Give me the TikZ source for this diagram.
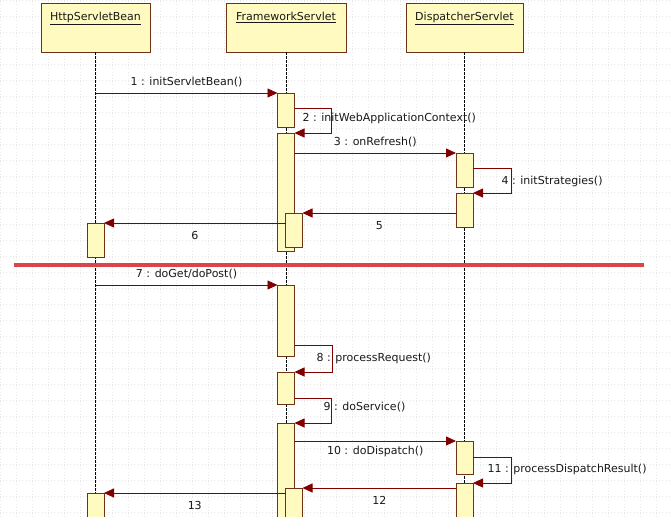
\documentclass[tikz,border=0pt]{standalone}
\usepackage{fontspec}
\setmainfont{DejaVu Sans}
\usetikzlibrary{calc}
\usetikzlibrary{positioning}
\usetikzlibrary{arrows.meta}

\definecolor{actfill}{RGB}{255,250,192}
\definecolor{actline}{RGB}{110,50,20}
\definecolor{msgcol}{RGB}{128,0,0}
\definecolor{sepcol}{RGB}{220,68,74}

\begin{document}
\begin{tikzpicture}
[
x=1pt, y=1pt,
% 文字
every node/.style={font=\fontsize{11}{13}\selectfont, text=black!90},
% 背景の点線
gridline/.style={gray!18, line width=0.6pt, dash pattern=on 0.6pt off 2.6pt},
% オブジェクト
objbox/.style={rectangle, draw=actline, fill=actfill, line width=0.8pt,
minimum height=49, inner sep=0, outer sep=0},
% 生存線
life/.style={black, line width=0.6pt, dash pattern=on 2.5pt off 1.5pt},
% 活性区間
act/.style={rectangle, draw=actline, fill=actfill, line width=0.8pt,
minimum width=17, inner sep=0, outer sep=0, anchor=north},
% メッセージ
msg/.style={draw=msgcol, line width=0.8pt,
-{Triangle[length=10pt, width=9pt, fill=msgcol]}},
% 区切り線
sep/.style={sepcol, line width=4pt}
]
\useasboundingbox (0,0) rectangle (670,-517);
\clip (0,0) rectangle (670,-517);
\fill[white] (0,0) rectangle (670,-517);
\draw[gridline] (0,0) grid[step=16] (670,-517);

% オブジェクトの配置
\node [objbox, minimum width=109] (hsb) at (95.5,-27.5) {};
\node [objbox, minimum width=120, right=76 of hsb] (fs) {};
\node [objbox, minimum width=117, right=60 of fs] (ds) {};
\node [anchor=north, yshift=-6] (hsbname) at (hsb.north) {\underline{HttpServletBean}};
\node [anchor=north, yshift=-6] (fsname) at (fs.north) {\underline{FrameworkServlet}};
\node [anchor=north, yshift=-6] (dsname) at (ds.north) {\underline{DispatcherServlet}};

% 生存線
\draw [life] (hsb.south) -- (hsb.south |- 0,-517);
\draw [life] (fs.south) -- (fs.south |- 0,-517);
\draw [life] (ds.south) -- (ds.south |- 0,-517);

% 区切り線
\draw [sep] (14,-265) -- (644,-265);

% 活性区間（初期化）
\node [act, minimum height=34] (f1) at (fs.south |- 0,-93) {};
\node [act, minimum height=118] (f2) at (fs.south |- 0,-133) {};
\node [act, minimum height=34] (d1) at (ds.south |- 0,-153) {};
\node [act, minimum height=34] (d2) at (ds.south |- 0,-193) {};
\node [act, minimum height=34, xshift=8] (f2b) at (fs.south |- 0,-213) {};
\node [act, minimum height=34] (h1) at (hsb.south |- 0,-223) {};

% 活性区間（リクエスト処理）
\node [act, minimum height=71] (f3) at (fs.south |- 0,-285) {};
\node [act, minimum height=32] (f4) at (fs.south |- 0,-372) {};
\node [act, minimum height=110] (f5) at (fs.south |- 0,-423) {};
\node [act, minimum height=33] (d3) at (ds.south |- 0,-441) {};
\node [act, minimum height=50] (d4) at (ds.south |- 0,-483) {};
\node [act, minimum height=50, xshift=8] (f5b) at (fs.south |- 0,-488) {};
\node [act, minimum height=50] (h2) at (hsb.south |- 0,-493) {};

% メッセージ（初期化）
\draw [msg] (hsb.south |- f1.north) -- (f1.north west)
node [midway, above=2] (m1) {1 : initServletBean()};
\draw [msg] ($(f1.east)+(0,2)$) -- ++(37,0) |- (f2.north east);
\node [anchor=west] (m2) at (299,-118) {2 : initWebApplicationContext()};
\draw [msg] (f2.east |- d1.north) -- (d1.north west)
node [midway, above=2] (m3) {3 : onRefresh()};
\draw [msg] ($(d1.east)+(0,2)$) -- ++(38,0) |- (d2.north east);
\node [anchor=west] (m4) at (498,-181) {4 : initStrategies()};
\draw [msg] (d2.west |- f2b.north) -- (f2b.north east)
node [midway, below=5] (m5) {5};
\draw [msg] (f2b.west |- h1.north) -- (h1.north east)
node [midway, below=5] (m6) {6};

% メッセージ（リクエスト処理）
\draw [msg] (hsb.south |- f3.north) -- (f3.north west)
node [midway, above=2] (m7) {7 : doGet/doPost()};
\draw [msg] ($(f3.south east)+(0,11)$) -- ++(38,0) |- (f4.north east);
\node [anchor=west] (m8) at (313,-358) {8 : processRequest()};
\draw [msg] ($(f4.south east)+(0,6)$) -- ++(37,0) |- (f5.north east);
\node [anchor=west] (m9) at (320,-407) {9 : doService()};
\draw [msg] (f5.east |- d3.north) -- (d3.north west)
node [midway, below=1] (m10) {10 : doDispatch()};
\draw [msg] (d3.east) -- ++(38,0) |- (d4.north east);
\node [anchor=west] (m11) at (484,-469) {11 : processDispatchResult()};
\draw [msg] (d4.west |- f5b.north) -- (f5b.north east)
node [midway, below=5] (m12) {12};
\draw [msg] (f5b.west |- h2.north) -- (h2.north east)
node [midway, below=5] (m13) {13};
\end{tikzpicture}
\end{document}
